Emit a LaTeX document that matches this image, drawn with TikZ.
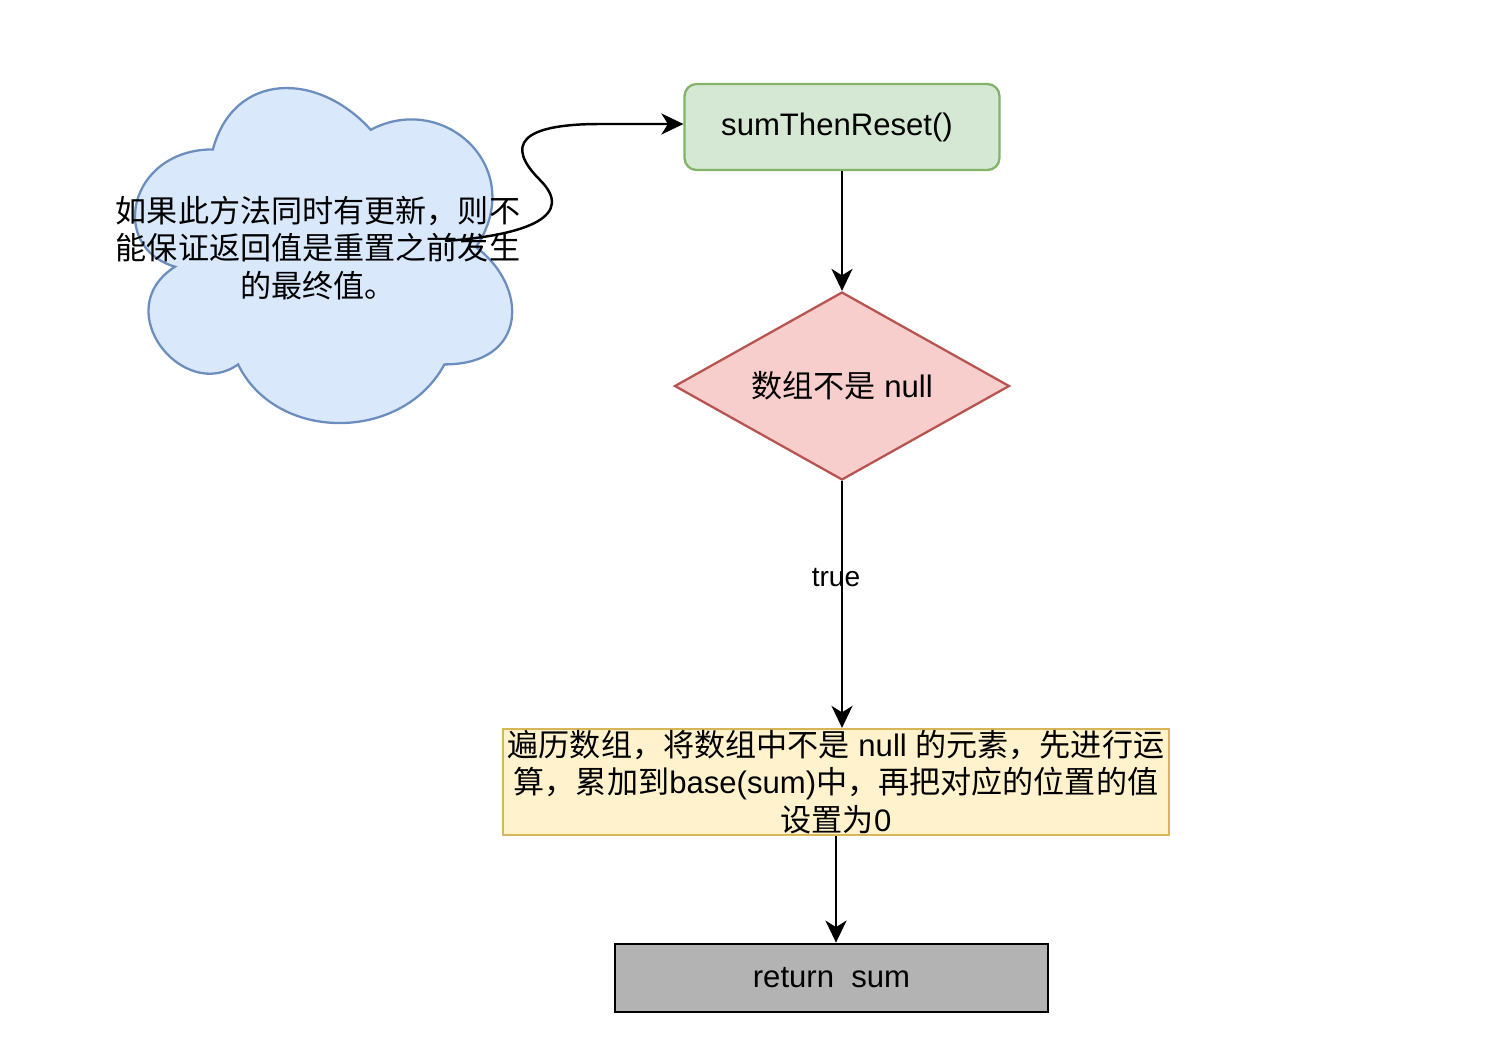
\documentclass[tikz,border=0pt]{standalone}
\usepackage{fontspec}
\setmainfont{Liberation Sans}
\newfontfamily\zhfont{Noto Sans CJK SC}
\usetikzlibrary{shapes.geometric, arrows.meta, positioning}

\definecolor{greenfill}{HTML}{D5E8D4}
\definecolor{greenline}{HTML}{82B366}
\definecolor{redfill}{HTML}{F8CECC}
\definecolor{redline}{HTML}{B85450}
\definecolor{yellowfill}{HTML}{FFF2CC}
\definecolor{yellowline}{HTML}{D6B656}
\definecolor{bluefill}{HTML}{DAE8FC}
\definecolor{blueline}{HTML}{6C8EBF}
\definecolor{grayfill}{HTML}{B3B3B3}

\begin{document}
\begin{tikzpicture}[
    x=0.02cm, y=-0.02cm,
    txt/.style = {font=\fontsize{17.7}{21.3}\selectfont, align=center},
    startblock/.style = {txt, rectangle, draw=greenline, fill=greenfill, line width=1.3pt, rounded corners=0.24cm, minimum width=6.3cm, minimum height=1.72cm},
    testblock/.style = {txt, diamond, aspect=1.78, draw=redline, fill=redfill, line width=1.3pt, inner sep=0pt, minimum width=6.7cm, minimum height=3.76cm},
    workblock/.style = {txt, rectangle, draw=yellowline, fill=yellowfill, line width=1.3pt, inner sep=0pt, minimum width=13.32cm, minimum height=2.12cm},
    endblock/.style = {txt, rectangle, draw=black, fill=grayfill, line width=1.6pt, minimum width=8.66cm, minimum height=1.36cm},
    lbl/.style = {font=\fontsize{16}{19}\selectfont, inner sep=1pt},
    arrow/.style = {draw=black, line width=1.4pt, -{Stealth[length=0.44cm, width=0.42cm, inset=0.13cm]}}
]
\useasboundingbox (0,0) rectangle (1488,1046);

% Note cloud
\draw [draw=blueline, fill=bluefill, line width=1.3pt]
    (212.9,149.4) .. controls (128.7,149.4) and (107.6,247.1) .. (175.0,266.7)
    .. controls (107.6,309.7) and (183.4,403.5) .. (238.1,364.4)
    .. controls (276.0,442.6) and (402.3,442.6) .. (444.4,364.4)
    .. controls (528.6,364.4) and (528.6,286.2) .. (476.0,247.1)
    .. controls (528.6,168.9) and (444.4,90.7) .. (370.7,129.8)
    .. controls (318.1,71.2) and (233.9,71.2) .. (212.9,149.4) -- cycle;
\coordinate (notetail) at (445,241);

% Flow
\node (start) [startblock] at (842,127) {\hspace*{-0.2cm}sumThenReset()};
\node (check) [testblock] at (842,386) {{\zhfont 数组不是} null};
\node (loop) [workblock] at (836,782) {{\zhfont 遍历数组，将数组中不是} null {\zhfont 的元素，先进行运}\\{\zhfont 算，累加到}base(sum){\zhfont 中，再把对应的位置的值}\\{\zhfont 设置为}0};
\node (result) [endblock] at (831.5,978) {return\ \ sum};

% Arrows
\draw [arrow] (notetail) .. controls (530,235) and (575,215) .. (540,180)
    .. controls (505,145) and (520,124) .. (600,124) -- (start.west |- 0,124);
\draw [arrow] (start.south) -- (check.north);
\draw [arrow] (check.south) -- node (truelbl) [lbl, pos=0.39, xshift=-0.12cm] {true} (loop.north -| check.south);
\draw [arrow] (loop.south) -- (loop.south |- result.north);

% Note text on top of the connector
\node (note) [txt] at (318,248) {{\zhfont 如果此方法同时有更新，则不}\\{\zhfont 能保证返回值是重置之前发生}\\{\zhfont 的最终值。}};

\end{tikzpicture}
\end{document}
